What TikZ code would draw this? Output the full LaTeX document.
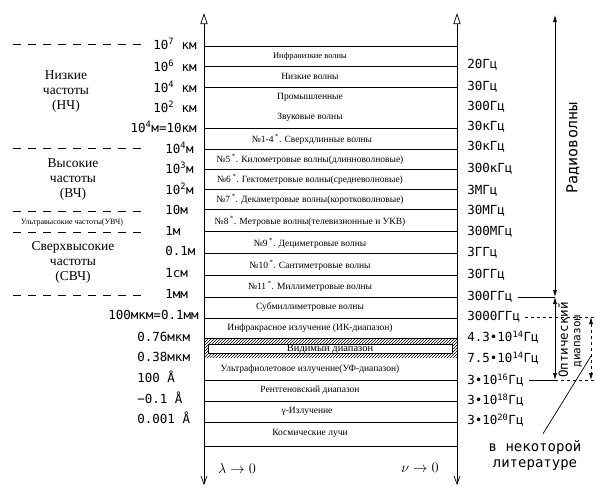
\documentclass[tikz,border=0pt]{standalone}
\usepackage{fontspec}
\setmainfont{Liberation Serif}
\newfontfamily\plotfont{DejaVu Sans Mono}
\usepackage{tikz}
\usetikzlibrary{positioning, arrows.meta, patterns}

\begin{document}
\begin{tikzpicture}[x=1pt, y=-1pt, line width=0.7pt,
    cell/.style={inner sep=0pt, font=\fontsize{9.5}{11}\selectfont},
    lbl/.style={inner sep=0pt, anchor=west, font=\plotfont\fontsize{12.5}{15}\selectfont},
    group/.style={inner sep=0pt, align=center, font=\fontsize{13.5}{15}\selectfont},
    bound/.style={dash pattern=on 8pt off 7pt},
    axis/.style={{Straight Barb[length=8pt,width=6pt]}-{Triangle[open,length=11pt,width=7pt]}},
    dim/.style={{Latex[length=7pt,width=4pt]}-{Latex[length=7pt,width=4pt]}}]
  \useasboundingbox (0,0) rectangle (596,493);

  % axes of the scale
  \coordinate (ltop) at (204,13);
  \coordinate (lbot) at (204,485);
  \coordinate (rtop) at (457,13);
  \coordinate (rbot) at (457,485);
  \draw[axis] (lbot) -- (ltop);
  \draw[axis] (rbot) -- (rtop);

  % band borders
  \draw (204,46.7) -- (457,46.7);
  \draw (204,66) -- (457,66);
  \draw (204,87) -- (457,87);
  \draw (204,128) -- (457,128);
  \draw (204,149) -- (457,149);
  \draw (204,169) -- (457,169);
  \draw (204,189) -- (457,189);
  \draw (204,209) -- (457,209);
  \draw (204,231) -- (457,231);
  \draw (204,253) -- (457,253);
  \draw (204,275) -- (457,275);
  \draw (204,297) -- (457,297);
  \draw (204,318) -- (457,318);
  \draw (204,338) -- (457,338);
  \draw (204,380) -- (457,380);
  \draw (204,401) -- (457,401);
  \draw (204,422) -- (457,422);
  \draw (204,446) -- (457,446);

  % visible light
  \fill[pattern=north east lines] (204,338) rectangle (457,357);
  \node[draw, fill=white, inner sep=0pt, minimum width=244pt, minimum height=9pt,
        font=\fontsize{10.5}{11}\selectfont] (vis) at (330,348.5) {Видимый диапазон};

  % bands
  \node[cell, font=\fontsize{8.5}{10}\selectfont] (c1) at (310,56) {Инфранизкие волны};
  \node[cell] (c2) at (310,76) {Низкие волны};
  \node[cell] (c3) at (310,97) {Промышленные};
  \node[cell] (c4) at (310,117) {Звуковые волны};
  \node[cell] (c5) at (312,139) {№1-4\,\textsuperscript{*}. Сверхдлинные волны};
  \node[cell] (c6) at (310,159) {№5\,\textsuperscript{*}. Километровые волны(длинноволновые)};
  \node[cell] (c7) at (310,179) {№6\,\textsuperscript{*}. Гектометровые волны(средневолновые)};
  \node[cell] (c8) at (310,199) {№7\,\textsuperscript{*}. Декаметровые волны(коротковолновые)};
  \node[cell] (c9) at (310,221) {№8\,\textsuperscript{*}. Метровые волны(телевизионные и УКВ)};
  \node[cell] (c10) at (310,243) {№9\,\textsuperscript{*}. Дециметровые волны};
  \node[cell] (c11) at (310,265) {№10\,\textsuperscript{*}. Сантиметровые волны};
  \node[cell] (c12) at (310,286) {№11\,\textsuperscript{*}. Миллиметровые волны};
  \node[cell] (c13) at (310,307) {Субмиллиметровые волны};
  \node[cell] (c14) at (310,328) {Инфракрасное излучение (ИК-диапазон)};
  \node[cell] (c15) at (310,369) {Ультрафиолетовое излучение(УФ-диапазон)};
  \node[cell] (c16) at (310,390) {Рентгеновский диапазон};
  \node[cell] (c17) at (307,411) {γ-Излучение};
  \node[cell] (c18) at (310,433) {Космические лучи};

  % wavelengths
  \node[lbl, anchor=east] (w1) at (197,44) {10\textsuperscript{7} км};
  \node[lbl, anchor=east] (w2) at (197,66) {10\textsuperscript{6} км};
  \node[lbl, anchor=east] (w3) at (197,87) {10\textsuperscript{4} км};
  \node[lbl, anchor=east] (w4) at (197,107) {10\textsuperscript{2} км};
  \node[lbl, anchor=east] (w5) at (197,127) {10\textsuperscript{4}м=10км};
  \node[lbl] (w6) at (165,148) {10\textsuperscript{4}м};
  \node[lbl] (w7) at (165,168) {10\textsuperscript{3}м};
  \node[lbl] (w8) at (165,189) {10\textsuperscript{2}м};
  \node[lbl] (w9) at (165,210) {10м};
  \node[lbl] (w10) at (165,231) {1м};
  \node[lbl] (w11) at (165,251) {0.1м};
  \node[lbl] (w12) at (165,273) {1см};
  \node[lbl] (w13) at (165,294) {1мм};
  \node[lbl, anchor=east] (w14) at (199,315) {100мкм=0.1мм};
  \node[lbl] (w15) at (137,337) {0.76мкм};
  \node[lbl] (w16) at (137,357) {0.38мкм};
  \node[lbl] (w17) at (137,377) {100 Å};
  \node[lbl] (w18) at (137,398) {−0.1 Å};
  \node[lbl] (w19) at (137,418) {0.001 Å};

  % frequencies
  \node[lbl] (f20) at (467,65) {20Гц};
  \node[lbl] (f30) at (467,87) {30Гц};
  \node[lbl] (f300) at (467,107) {300Гц};
  \node[lbl] (f30k) at (467,127) {30кГц};
  \node[lbl] (f30kb) at (467,147) {30кГц};
  \node[lbl] (f300k) at (467,169) {300кГц};
  \node[lbl] (f3m) at (467,191) {3МГц};
  \node[lbl] (f30m) at (467,211) {30МГц};
  \node[lbl] (f300m) at (467,232) {300МГц};
  \node[lbl] (f3g) at (467,253) {3ГГц};
  \node[lbl] (f30g) at (467,275) {30ГГц};
  \node[lbl] (f300g) at (467,297) {300ГГц};
  \node[lbl] (f3000g) at (467,317) {3000ГГц};
  \node[lbl] (f43) at (467,337) {4.3•10\textsuperscript{14}Гц};
  \node[lbl] (f75) at (467,358) {7.5•10\textsuperscript{14}Гц};
  \node[lbl] (f3e16) at (467,380) {3•10\textsuperscript{16}Гц};
  \node[lbl] (f3e18) at (467,400) {3•10\textsuperscript{18}Гц};
  \node[lbl] (f3e20) at (467,420) {3•10\textsuperscript{20}Гц};

  % frequency groups
  \draw[bound] (13,44) -- (143,44);
  \node[group] (lf) at (66,92) {Низкие\\частоты\\(НЧ)};
  \draw[bound] (13,148) -- (143,148);
  \node[group] (hf) at (73,180) {Высокие\\частоты\\(ВЧ)};
  \draw[bound] (13,211) -- (143,211);
  \node[group, font=\fontsize{8}{9}\selectfont] (uhf) at (72,223) {Ультравысокие частоты(УВЧ)};
  \draw[bound] (13,232) -- (143,232);
  \node[group] (shf) at (73,262) {Сверхвысокие\\частоты\\(СВЧ)};
  \draw[bound] (13,295) -- (143,295);

  \node[font=\fontsize{15}{18}\selectfont] (lam) at (237,468) {$\lambda\rightarrow0$};
  \node[font=\fontsize{15}{18}\selectfont] (nu) at (420,468) {$\nu\rightarrow0$};

  % ranges at the right
  \coordinate (radtop) at (555,15);
  \coordinate (radbot) at (555,297);
  \coordinate (optbot) at (555,380);
  \coordinate (alttop) at (591,317);
  \coordinate (altbot) at (591,380);
  \coordinate (kink) at (591,356);
  \draw ([xshift=5pt]f300g.east) -- (radbot);
  \draw ([xshift=5pt]f3e16.east) -- (optbot);
  \draw[dashed] (optbot) -- ([xshift=6pt]altbot);
  \draw[dashed] ([xshift=5pt]f3000g.east) -- ([xshift=6pt]alttop);
  \draw[dim] (radtop) -- (radbot);
  \draw[dim] (radbot) -- (optbot);
  \draw[dim, dashed] (alttop) -- (altbot);
  \node[rotate=90, inner sep=0pt, font=\plotfont\fontsize{15}{17}\selectfont] (radio) at (573,148) {Радиоволны};
  \node[rotate=90, inner sep=0pt, font=\plotfont\fontsize{12.5}{14}\selectfont] (optic) at (563,340) {Оптический};
  \node[rotate=90, inner sep=0pt, font=\plotfont\fontsize{11}{13}\selectfont] (optic2) at (578,341) {диапазон};
  \node[align=center, inner sep=0pt, font=\plotfont\fontsize{14}{16}\selectfont] (lit) at (535,455) {в некоторой\\литературе};
  \draw ([shift={(8pt,6pt)}]lit.north) -- (kink);
\end{tikzpicture}
\end{document}
